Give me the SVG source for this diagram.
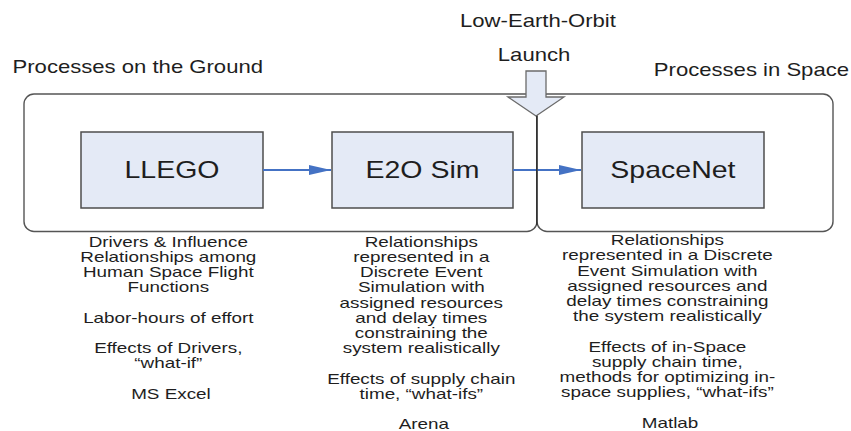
<svg xmlns="http://www.w3.org/2000/svg" width="851" height="431" viewBox="0 0 851 431">
  <style>
    .container { fill: #ffffff; stroke: #555555; stroke-width: 1.4; }
    .box { fill: #e4eaf6; stroke: #4d4d4d; stroke-width: 1.5; }
    .launch { fill: #e4eaf6; stroke: #6b6b6b; stroke-width: 1.3; }
    .divider { stroke: #333333; stroke-width: 1.6; fill: none; }
    .conn { stroke: #4472c4; stroke-width: 2.2; fill: none; }
    text { font-family: "Liberation Sans", Arial, sans-serif; fill: #1e1e1e; }
    .label { font-size: 23px; text-anchor: middle; }
    .head { font-size: 18px; }
    .mid { text-anchor: middle; }
    .body { font-size: 14.8px; text-anchor: middle; }
  </style>
  <defs>
    <marker id="arrow" viewBox="0 0 22 10" refX="22" refY="5" markerWidth="22" markerHeight="10" markerUnits="userSpaceOnUse" orient="auto">
      <path d="M0,0 L22,5 L0,10 Z" fill="#4472c4"/>
    </marker>
  </defs>

  <g id="containers">
    <rect id="ground" class="container" x="24" y="94" width="513" height="137.5" rx="10" ry="10"/>
    <rect id="space" class="container" x="537" y="94" width="296" height="137.5" rx="10" ry="10"/>
  </g>

  <g id="launch-arrow">
    <polygon class="launch" points="526,71 546,71 546,97 564,97 536,116 508,97 526,97"/>
  </g>

  <g id="LLEGO">
    <rect class="box" x="81" y="132" width="182" height="76"/>
  </g>
  <g id="E2OSim">
    <rect class="box" x="332" y="132" width="181" height="76"/>
  </g>
  <g id="SpaceNet">
    <rect class="box" x="582" y="132" width="182" height="76"/>
  </g>

  <g id="connectors">
    <line class="conn" x1="263" y1="170" x2="331" y2="170" marker-end="url(#arrow)"/>
    <line class="conn" x1="513" y1="170" x2="581" y2="170" marker-end="url(#arrow)"/>
    <line class="divider" x1="536.8" y1="116" x2="536.8" y2="225"/>
  </g>

  <g id="box-labels" transform="scale(1.24 1)">
    <text class="label" x="138.7" y="178">LLEGO</text>
    <text class="label" x="340.7" y="178">E2O Sim</text>
    <text class="label" x="542.7" y="178">SpaceNet</text>
  </g>

  <g id="headings" transform="scale(1.228 1)">
    <text class="head mid" x="438.1" y="27">Low-Earth-Orbit</text>
    <text class="head mid" x="434.9" y="61">Launch</text>
    <text class="head" x="10.2" y="73.5">Processes on the Ground</text>
    <text class="head" x="691.4" y="76" text-anchor="end">Processes in Space</text>
  </g>

  <g id="descriptions" transform="scale(1.275 1)">
    <text class="body" y="246.8">
      <tspan x="134.1">Drivers &amp; Influence</tspan>
      <tspan x="134.1" dy="15.2">Relationships among</tspan>
      <tspan x="134.1" dy="15.2">Human Space Flight</tspan>
      <tspan x="134.1" dy="15.2">Functions</tspan>
      <tspan x="134.1" dy="30.4">Labor-hours of effort</tspan>
      <tspan x="134.1" dy="30.4">Effects of Drivers,</tspan>
      <tspan x="134.1" dy="15.2">“what-if”</tspan>
      <tspan x="134.1" dy="30.4">MS Excel</tspan>
    </text>

    <text class="body" y="246.8">
      <tspan x="332.5">Relationships</tspan>
      <tspan x="332.5" dy="15.2">represented in a</tspan>
      <tspan x="332.5" dy="15.2">Discrete Event</tspan>
      <tspan x="332.5" dy="15.2">Simulation with</tspan>
      <tspan x="332.5" dy="15.2">assigned resources</tspan>
      <tspan x="332.5" dy="15.2">and delay times</tspan>
      <tspan x="332.5" dy="15.2">constraining the</tspan>
      <tspan x="332.5" dy="15.2">system realistically</tspan>
      <tspan x="332.5" dy="30.4">Effects of supply chain</tspan>
      <tspan x="332.5" dy="15.2">time, “what-ifs”</tspan>
      <tspan x="332.5" dy="30.4">Arena</tspan>
    </text>

    <text class="body" y="245.2">
      <tspan x="525.5">Relationships</tspan>
      <tspan x="525.5" dy="15.2">represented in a Discrete</tspan>
      <tspan x="525.5" dy="15.2">Event Simulation with</tspan>
      <tspan x="525.5" dy="15.2">assigned resources and</tspan>
      <tspan x="525.5" dy="15.2">delay times constraining</tspan>
      <tspan x="525.5" dy="15.2">the system realistically</tspan>
      <tspan x="525.5" dy="30.4">Effects of in-Space</tspan>
      <tspan x="525.5" dy="15.2">supply chain time,</tspan>
      <tspan x="525.5" dy="15.2">methods for optimizing in-</tspan>
      <tspan x="525.5" dy="15.2">space supplies, “what-ifs”</tspan>
      <tspan x="525.5" dy="30.4">Matlab</tspan>
    </text>
  </g>
</svg>
